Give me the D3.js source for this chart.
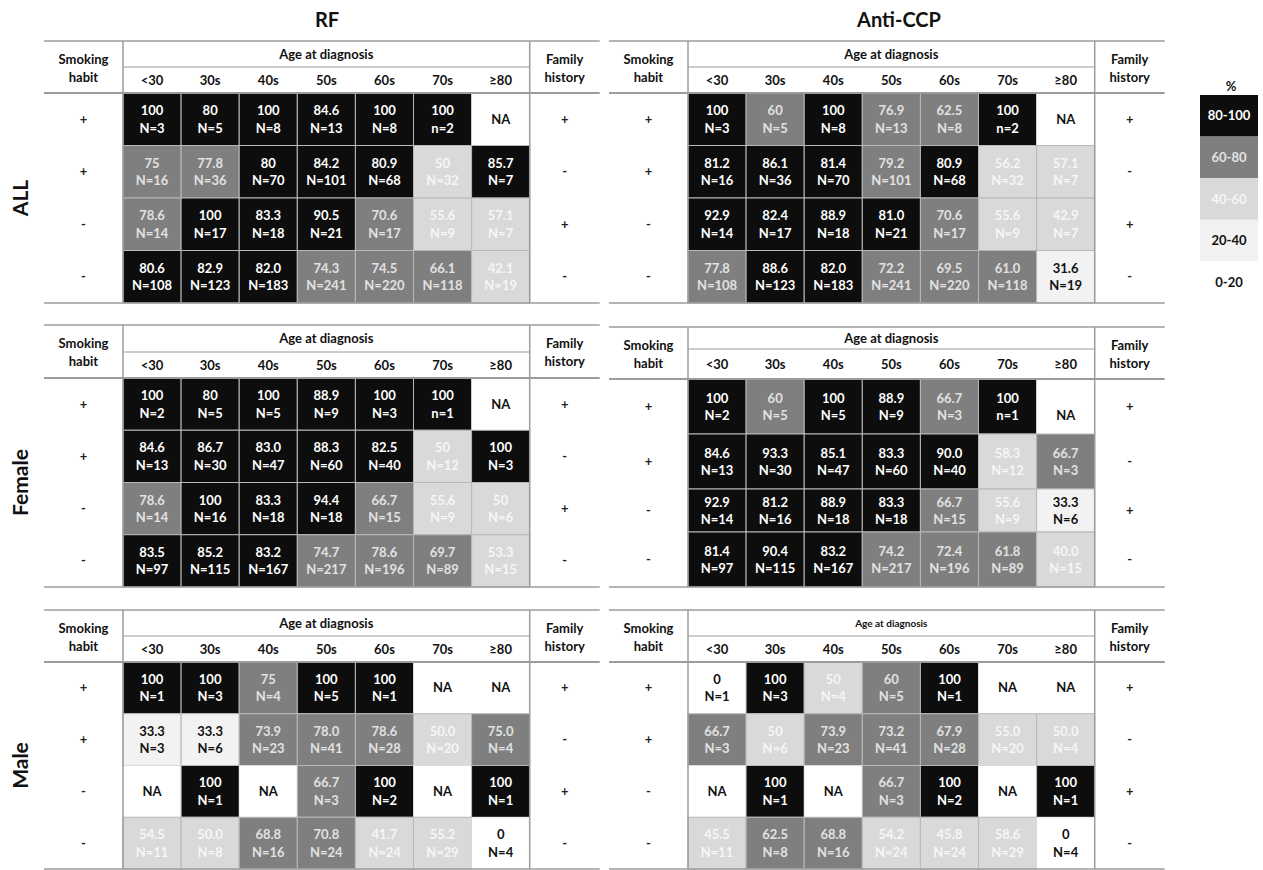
<!DOCTYPE html>
<html lang="en">
<head>
<meta charset="UTF-8">
<script src="https://d3js.org/d3.v7.min.js"></script>
<style>
  body { margin: 0; background: #fff; }
  svg { font-family: Lato, "Open Sans", sans-serif; font-weight: bold; }
</style>
<title>RF / Anti-CCP positivity</title>
</head>
<body>
<script>

var ages = ["<30", "30s", "40s", "50s", "60s", "70s", "≥80"];
var smoking = ["+", "+", "-", "-"];
var family = ["+", "-", "+", "-"];
var groups = ["ALL", "Female", "Male"];
var tests = ["RF", "Anti-CCP"];
var bins = ["0-20", "20-40", "40-60", "60-80", "80-100"];

// positive rate (%) per smoking/family row and age column
var rfAll = [
    ["100", "80", "100", "84.6", "100", "100", "NA"],
    ["75", "77.8", "80", "84.2", "80.9", "50", "85.7"],
    ["78.6", "100", "83.3", "90.5", "70.6", "55.6", "57.1"],
    ["80.6", "82.9", "82.0", "74.3", "74.5", "66.1", "42.1"]];
var ccpAll = [
    ["100", "60", "100", "76.9", "62.5", "100", "NA"],
    ["81.2", "86.1", "81.4", "79.2", "80.9", "56.2", "57.1"],
    ["92.9", "82.4", "88.9", "81.0", "70.6", "55.6", "42.9"],
    ["77.8", "88.6", "82.0", "72.2", "69.5", "61.0", "31.6"]];
var rfFemale = [
    ["100", "80", "100", "88.9", "100", "100", "NA"],
    ["84.6", "86.7", "83.0", "88.3", "82.5", "50", "100"],
    ["78.6", "100", "83.3", "94.4", "66.7", "55.6", "50"],
    ["83.5", "85.2", "83.2", "74.7", "78.6", "69.7", "53.3"]];
var ccpFemale = [
    ["100", "60", "100", "88.9", "66.7", "100", "NA"],
    ["84.6", "93.3", "85.1", "83.3", "90.0", "58.3", "66.7"],
    ["92.9", "81.2", "88.9", "83.3", "66.7", "55.6", "33.3"],
    ["81.4", "90.4", "83.2", "74.2", "72.4", "61.8", "40.0"]];
var rfMale = [
    ["100", "100", "75", "100", "100", "NA", "NA"],
    ["33.3", "33.3", "73.9", "78.0", "78.6", "50.0", "75.0"],
    ["NA", "100", "NA", "66.7", "100", "NA", "100"],
    ["54.5", "50.0", "68.8", "70.8", "41.7", "55.2", "0"]];
var ccpMale = [
    ["0", "100", "50", "60", "100", "NA", "NA"],
    ["66.7", "50", "73.9", "73.2", "67.9", "55.0", "50.0"],
    ["NA", "100", "NA", "66.7", "100", "NA", "100"],
    ["45.5", "62.5", "68.8", "54.2", "45.8", "58.6", "0"]];

// patient counts (same for both tests)
var nAll = [[3, 5, 8, 13, 8, 2, null], [16, 36, 70, 101, 68, 32, 7], [14, 17, 18, 21, 17, 9, 7], [108, 123, 183, 241, 220, 118, 19]];
var nFemale = [[2, 5, 5, 9, 3, 1, null], [13, 30, 47, 60, 40, 12, 3], [14, 16, 18, 18, 15, 9, 6], [97, 115, 167, 217, 196, 89, 15]];
var nMale = [[1, 3, 4, 5, 1, null, null], [3, 6, 23, 41, 28, 20, 4], [null, 1, null, 3, 2, null, 1], [11, 8, 16, 24, 24, 29, 4]];

// cells written with a small "n=" in the original  [test, group, row, col]
var lowerN = [[0, 0, 0, 5], [1, 0, 0, 5], [0, 1, 0, 5], [1, 1, 0, 5]];

var pct = [[rfAll, rfFemale, rfMale], [ccpAll, ccpFemale, ccpMale]];
var counts = [nAll, nFemale, nMale];

var width = 1263, height = 870;
var svg = d3.select("body").append("svg")
    .attr("width", width)
    .attr("height", height);

var fillScale = d3.scaleThreshold()
    .domain([20, 40, 60, 80])
    .range(["#ffffff", "#f2f2f2", "#d9d9d9", "#7f7f7f", "#0d0d0d"]);
var textScale = d3.scaleThreshold()
    .domain([20, 40, 60, 80])
    .range(["#111111", "#111111", "#f6f6f6", "#e2e2e2", "#ffffff"]);

var lineColor = "#9c9c9c";
var panelX = [44, 609];
var titleX = [327, 899];
var smokeW = 79, cellW = 58.1, famW = 70;
var cellFont = "13px";
var blocks = [
    { top: 41, mid: 67, hdr: 93, bottom: 303 },
    { top: 325, mid: 352, hdr: 378, bottom: 587 },
    { top: 610, mid: 636, hdr: 662, bottom: 869 }
];

function layoutFor(t, g) {
    var b = Object.assign({}, blocks[g]);
    if (t == 1 && g == 1) {
        // the anti-CCP female table is drawn a little unevenly
        b.top = 327; b.mid = 349; b.hdr = 379;
        b.edges = [379, 434, 489, 532, 587];
    } else {
        var y = d3.scaleLinear().domain([0, 4]).range([b.hdr, b.bottom]);
        b.edges = d3.range(5).map(y);
    }
    return b;
}

// titles
tests.forEach(function (t, i) {
    svg.append("text")
        .attr("x", titleX[i]).attr("y", 27)
        .attr("text-anchor", "middle")
        .attr("font-size", "20px")
        .attr("fill", "#111")
        .text(t);
});

// group labels
groups.forEach(function (g, i) {
    var b = blocks[i];
    var cy = (b.hdr + b.bottom) / 2;
    svg.append("text")
        .attr("transform", "translate(28," + cy + ") rotate(-90)")
        .attr("text-anchor", "middle")
        .attr("font-size", "21px")
        .attr("fill", "#111")
        .text(g);
});

function drawPanel(t, g) {
    var b = layoutFor(t, g);
    var x0 = panelX[t];
    var xa = x0 + smokeW;
    var xb = xa + ages.length * cellW;
    var x1 = xb + famW;
    var vals = pct[t][g];
    var ns = counts[g];

    var x = d3.scaleBand().domain(ages).range([xa, xb]);
    var panel = svg.append("g");

    var cells = [];
    vals.forEach(function (row, r) {
        row.forEach(function (v, c) {
            cells.push({ r: r, c: c, v: v, n: ns[r][c] });
        });
    });

    var cg = panel.selectAll("g.cell")
        .data(cells)
        .enter()
        .append("g")
        .attr("class", "cell");

    cg.append("rect")
        .attr("x", function (d) { return x(ages[d.c]); })
        .attr("y", function (d) { return b.edges[d.r]; })
        .attr("width", x.bandwidth())
        .attr("height", function (d) { return b.edges[d.r + 1] - b.edges[d.r]; })
        .attr("fill", function (d) { return d.v == "NA" ? "#fff" : fillScale(+d.v); })
        .attr("stroke", function (d) { return d.v == "NA" || +d.v < 20 ? "none" : "#b8b8b8"; })
        .attr("stroke-width", 1);

    cg.each(function (d) {
        var cx = x(ages[d.c]) + x.bandwidth() / 2;
        var cy = (b.edges[d.r] + b.edges[d.r + 1]) / 2;
        var sel = d3.select(this);
        if (d.v == "NA") {
            var naY = (t == 1 && g == 1 && d.r == 0) ? cy + 9 : cy;
            sel.append("text")
                .attr("x", cx).attr("y", naY)
                .attr("dy", "0.35em")
                .attr("text-anchor", "middle")
                .attr("font-size", cellFont)
                .attr("fill", "#111")
                .text("NA");
            return;
        }
        var col = textScale(+d.v);
        var small = lowerN.some(function (k) {
            return k[0] == t && k[1] == g && k[2] == d.r && k[3] == d.c;
        });
        sel.append("text")
            .attr("x", cx).attr("y", cy - 8.5)
            .attr("dy", "0.35em")
            .attr("text-anchor", "middle")
            .attr("font-size", cellFont)
            .attr("fill", col)
            .text(d.v);
        sel.append("text")
            .attr("x", cx).attr("y", cy + 9)
            .attr("dy", "0.35em")
            .attr("text-anchor", "middle")
            .attr("font-size", cellFont)
            .attr("fill", col)
            .text((small ? "n=" : "N=") + d.n);
    });

    // row signs
    smoking.forEach(function (s, r) {
        var cy = (b.edges[r] + b.edges[r + 1]) / 2;
        panel.append("text")
            .attr("x", x0 + smokeW / 2).attr("y", cy)
            .attr("dy", "0.35em")
            .attr("text-anchor", "middle")
            .attr("font-size", "13px")
            .attr("fill", "#222")
            .text(s);
        panel.append("text")
            .attr("x", xb + famW / 2).attr("y", cy)
            .attr("dy", "0.35em")
            .attr("text-anchor", "middle")
            .attr("font-size", "13px")
            .attr("fill", "#222")
            .text(family[r]);
    });

    // headers
    var hc = (b.top + b.hdr) / 2;
    [["Smoking", "habit", x0 + smokeW / 2], ["Family", "history", xb + famW / 2]].forEach(function (h) {
        panel.append("text")
            .attr("x", h[2]).attr("y", hc - 8)
            .attr("dy", "0.35em")
            .attr("text-anchor", "middle")
            .attr("font-size", "13px")
            .attr("fill", "#111")
            .text(h[0]);
        panel.append("text")
            .attr("x", h[2]).attr("y", hc + 10)
            .attr("dy", "0.35em")
            .attr("text-anchor", "middle")
            .attr("font-size", "13px")
            .attr("fill", "#111")
            .text(h[1]);
    });

    panel.append("text")
        .attr("x", (xa + xb) / 2).attr("y", (b.top + b.mid) / 2)
        .attr("dy", "0.35em")
        .attr("text-anchor", "middle")
        .attr("font-size", (t == 1 && g == 2) ? "10px" : "13px")
        .attr("fill", "#111")
        .text("Age at diagnosis");

    panel.selectAll("text.age")
        .data(ages)
        .enter()
        .append("text")
        .attr("class", "age")
        .attr("x", function (d) { return x(d) + x.bandwidth() / 2; })
        .attr("y", (b.mid + b.hdr) / 2)
        .attr("dy", "0.35em")
        .attr("text-anchor", "middle")
        .attr("font-size", "13px")
        .attr("fill", "#111")
        .text(function (d) { return d; });

    // rules
    function rule(xa_, ya_, xb_, yb_, w) {
        panel.append("line")
            .attr("x1", xa_).attr("y1", ya_)
            .attr("x2", xb_).attr("y2", yb_)
            .attr("stroke", lineColor)
            .attr("stroke-width", w);
    }
    rule(x0, b.top, x1, b.top, 1.5);
    rule(xa, b.mid, xb, b.mid, 1.2);
    rule(x0, b.hdr, x1, b.hdr, 2);
    rule(x0, b.bottom, x1, b.bottom, 1.5);
    rule(xa, b.top, xa, b.bottom, 1.5);
    rule(xb, b.top, xb, b.bottom, 1.5);
}

tests.forEach(function (t, ti) {
    groups.forEach(function (g, gi) {
        drawPanel(ti, gi);
    });
});

// legend
var legend = svg.append("g");
var legendY = d3.scaleBand().domain(bins.slice().reverse()).range([95, 303]);
var legendMid = { "0-20": 10, "20-40": 30, "40-60": 50, "60-80": 70, "80-100": 90 };

legend.append("text")
    .attr("x", 1231).attr("y", 86)
    .attr("dy", "0.35em")
    .attr("text-anchor", "middle")
    .attr("font-size", "13px")
    .attr("fill", "#111")
    .text("%");

legend.selectAll("rect")
    .data(legendY.domain())
    .enter()
    .append("rect")
    .attr("x", 1200)
    .attr("y", function (d) { return legendY(d); })
    .attr("width", 58)
    .attr("height", legendY.bandwidth())
    .attr("fill", function (d) { return fillScale(legendMid[d]); });

legend.selectAll("text.bin")
    .data(legendY.domain())
    .enter()
    .append("text")
    .attr("class", "bin")
    .attr("x", 1229)
    .attr("y", function (d) { return legendY(d) + legendY.bandwidth() / 2; })
    .attr("dy", "0.35em")
    .attr("text-anchor", "middle")
    .attr("font-size", "13px")
    .attr("fill", function (d) { return textScale(legendMid[d]); })
    .text(function (d) { return d; });

</script>
</body>
</html>
